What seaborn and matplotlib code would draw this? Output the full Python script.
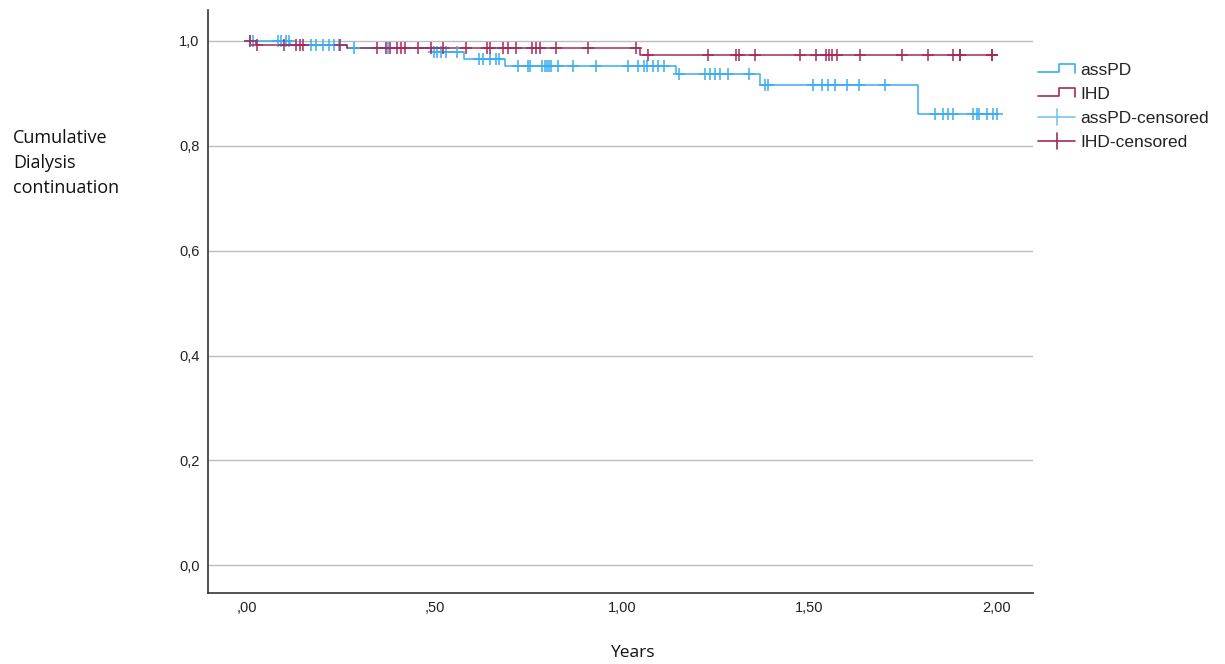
import numpy as np
import pandas as pd
import matplotlib
matplotlib.use("Agg")
import matplotlib.pyplot as plt
import seaborn as sns
from matplotlib.legend_handler import HandlerBase
from matplotlib.lines import Line2D

# ---------------- data ----------------
asspd_event_times = [0.115, 0.267, 0.490, 0.578, 0.688, 1.145, 1.368, 1.789]
asspd_survival = [0.993, 0.986, 0.979, 0.966, 0.952, 0.936, 0.915, 0.861]
asspd_censored = [0.008, 0.016, 0.083, 0.091, 0.104, 0.112, 0.171, 0.184, 0.203,
                  0.219, 0.232, 0.245, 0.285, 0.376, 0.499, 0.507, 0.517, 0.531,
                  0.560, 0.619, 0.629, 0.648, 0.664, 0.672, 0.723, 0.749, 0.755,
                  0.787, 0.795, 0.800, 0.805, 0.811, 0.829, 0.869, 0.931, 1.016,
                  1.043, 1.059, 1.067, 1.083, 1.096, 1.112, 1.152, 1.221, 1.235,
                  1.248, 1.261, 1.283, 1.339, 1.381, 1.389, 1.509, 1.533, 1.549,
                  1.568, 1.600, 1.632, 1.701, 1.835, 1.856, 1.869, 1.883, 1.936,
                  1.947, 1.952, 1.973, 1.989, 2.000]

ihd_event_times = [0.024, 0.267, 1.048]
ihd_survival = [0.993, 0.986, 0.973]
ihd_censored = [0.008, 0.027, 0.099, 0.131, 0.141, 0.149, 0.248, 0.347, 0.371,
                0.381, 0.400, 0.411, 0.421, 0.456, 0.491, 0.523, 0.584, 0.640,
                0.648, 0.683, 0.696, 0.717, 0.760, 0.771, 0.781, 0.824, 0.909,
                1.037, 1.069, 1.229, 1.304, 1.312, 1.355, 1.475, 1.517, 1.544,
                1.552, 1.560, 1.573, 1.635, 1.747, 1.816, 1.883, 1.901, 1.901,
                1.987, 1.987]

end_time = 2.0
groups = ["assPD", "IHD"]
legend_labels = ["assPD", "IHD", "assPD-censored", "IHD-censored"]
x_ticks = [0.0, 0.5, 1.0, 1.5, 2.0]
x_tick_labels = [",00", ",50", "1,00", "1,50", "2,00"]
y_ticks = [0.0, 0.2, 0.4, 0.6, 0.8, 1.0]
y_tick_labels = ["0,0", "0,2", "0,4", "0,6", "0,8", "1,0"]
x_label = "Years"
y_label = "Cumulative\nDialysis\ncontinuation"

# ---------------- styling ----------------
BLUE = "#3AAEEF"
BLUE_LIGHT = "#74C6F4"
RED = "#A5295B"

sns.set_theme(style="white")
plt.rcParams["font.family"] = ["Liberation Sans", "DejaVu Sans"]


def step_frame(times, surv, group):
    t = [0.0] + list(times) + [end_time]
    s = [1.0] + list(surv) + [surv[-1]]
    return pd.DataFrame({"time": t, "surv": s, "group": group})


def censor_frame(times, ev_times, surv, group):
    levels = np.array([1.0] + list(surv))
    idx = np.searchsorted(np.array(ev_times), np.array(times), side="right")
    return pd.DataFrame({"time": times, "surv": levels[idx], "group": group})


lines_df = pd.concat([step_frame(asspd_event_times, asspd_survival, "assPD"),
                      step_frame(ihd_event_times, ihd_survival, "IHD")])
cens_df = pd.concat([censor_frame(asspd_censored, asspd_event_times, asspd_survival, "assPD"),
                     censor_frame(ihd_censored, ihd_event_times, ihd_survival, "IHD")])

fig = plt.figure(figsize=(12.25, 6.64), dpi=100)
ax = fig.add_axes([208 / 1225, 1 - 593 / 664, (1033 - 208) / 1225, (593 - 10) / 664])

ax.set_xlim(-0.104, 2.096)
ax.set_ylim(-0.053, 1.059)

for yt in y_ticks:
    ax.axhline(yt, color="#BDBDBD", lw=1.0, zorder=0)

palette = {"assPD": BLUE, "IHD": RED}
for g in ["assPD", "IHD"]:
    sns.lineplot(data=lines_df[lines_df.group == g], x="time", y="surv",
                 color=palette[g], drawstyle="steps-post", lw=1.1,
                 estimator=None, sort=False, ax=ax, legend=False, zorder=3)
for g in ["assPD", "IHD"]:
    sub = cens_df[cens_df.group == g]
    ax.plot(sub["time"], sub["surv"], linestyle="none", marker="+",
            markersize=8.5, mew=1.1, color=palette[g], zorder=4)

ax.set_xticks(x_ticks)
ax.set_xticklabels(x_tick_labels)
ax.set_yticks(y_ticks)
ax.set_yticklabels(y_tick_labels)
ax.tick_params(axis="both", length=0, labelsize=10.5, colors="#222222")
ax.tick_params(axis="x", pad=6)
ax.tick_params(axis="y", pad=6)
ax.set_xlabel("")
ax.set_ylabel("")
ax.grid(False)

for side in ["top", "right"]:
    ax.spines[side].set_visible(False)
for side in ["left", "bottom"]:
    ax.spines[side].set_color("#333333")
    ax.spines[side].set_linewidth(1.2)

fig.text(632 / 1225, 1 - 653 / 664, x_label, ha="center", va="center",
         fontsize=12.5, family=["Open Sans", "DejaVu Sans"], color="#111111")
fig.text(13 / 1225, 1 - 163 / 664, y_label, ha="left", va="center",
         fontsize=13, family=["Open Sans", "DejaVu Sans"], color="#111111",
         linespacing=1.5)


class StepHandler(HandlerBase):
    def create_artists(self, legend, orig_handle, xdescent, ydescent,
                       width, height, fontsize, trans):
        x0 = -xdescent
        y0 = -ydescent
        xs = [x0, x0 + 0.55 * width, x0 + 0.55 * width, x0 + width, x0 + width]
        ys = [y0 + 0.2 * height, y0 + 0.2 * height, y0 + 0.9 * height,
              y0 + 0.9 * height, y0 + 0.15 * height]
        ln = Line2D(xs, ys, color=orig_handle.get_color(), lw=1.2, transform=trans)
        return [ln]


class CrossHandler(HandlerBase):
    def create_artists(self, legend, orig_handle, xdescent, ydescent,
                       width, height, fontsize, trans):
        x0 = -xdescent
        y0 = -ydescent
        h = Line2D([x0, x0 + width], [y0 + 0.5 * height] * 2,
                   color=orig_handle.get_color(), lw=1.2, transform=trans)
        v = Line2D([x0 + 0.5 * width] * 2, [y0 - 0.15 * height, y0 + 1.15 * height],
                   color=orig_handle.get_color(), lw=1.2, transform=trans)
        return [h, v]


h_step_blue = Line2D([], [], color=BLUE)
h_step_red = Line2D([], [], color=RED)
h_cross_blue = Line2D([], [], color=BLUE_LIGHT)
h_cross_red = Line2D([], [], color=RED)
handlers = {h_step_blue: StepHandler(), h_step_red: StepHandler(),
            h_cross_blue: CrossHandler(), h_cross_red: CrossHandler()}
leg = fig.legend([h_step_blue, h_step_red, h_cross_blue, h_cross_red], legend_labels,
                 handler_map=handlers, loc="upper left",
                 bbox_to_anchor=(1035 / 1225, 1 - 59 / 664), frameon=False,
                 fontsize=12.5, handlelength=2.1, handletextpad=0.3,
                 labelspacing=0.52, borderaxespad=0, borderpad=0.2)
for t in leg.get_texts():
    t.set_color("#222222")

fig.savefig("out.png", dpi=100)
